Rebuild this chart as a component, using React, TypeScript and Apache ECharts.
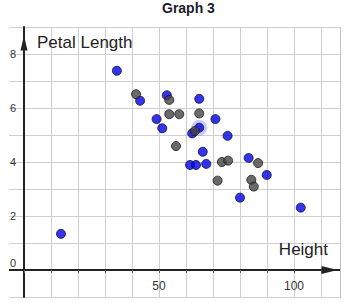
import { useEffect, useRef } from "react";
import * as echarts from "echarts";

const titleText = "Graph 3";
const xAxisName = "Height";
const yAxisName = "Petal Length";
const xLabelValues = [50, 100];
const yLabelValues = [0, 2, 4, 6, 8];

const bluePoints: [number, number][] = [
  [34.4, 7.38], [43.0, 6.27], [52.9, 6.47], [64.9, 6.34], [49.1, 5.59],
  [70.9, 5.59], [51.2, 5.25], [64.9, 5.27], [62.3, 5.06], [75.4, 4.97],
  [66.2, 4.38], [61.5, 3.89], [63.7, 3.89], [67.5, 3.93], [83.2, 4.15],
  [89.9, 3.52], [80.0, 2.68], [102.5, 2.31], [13.7, 1.34],
];

const grayPoints: [number, number][] = [
  [41.5, 6.51], [53.8, 6.30], [53.8, 5.77], [57.5, 5.77], [64.9, 5.80],
  [63.3, 5.15], [56.3, 4.59], [73.3, 4.00], [75.6, 4.05], [86.7, 3.96],
  [71.7, 3.31], [84.2, 3.34], [85.1, 3.09],
];

const selectedPoint: [number, number][] = [[64.9, 5.27]];

export default function App() {
  const ref = useRef<HTMLDivElement>(null);
  useEffect(() => {
    if (!ref.current) return;
    const chart = echarts.init(ref.current, null, { renderer: "svg" });
    const font = "'Liberation Sans', Arial, sans-serif";
    chart.setOption({
      animation: false,
      title: {
        text: titleText,
        left: 157,
        top: -4,
        textStyle: { fontFamily: font, fontSize: 14, fontWeight: "bold", color: "#1c1c2c" },
      },
      grid: { left: -3, right: 8, top: 27, bottom: 6, containLabel: false, outerBoundsMode: "none" },
      graphic: [
        { type: "rect", z: 50, shape: { x: 0, y: 20, width: 9, height: 283 }, style: { fill: "#fff" }, silent: true },
        { type: "rect", z: 50, shape: { x: 341, y: 20, width: 15, height: 283 }, style: { fill: "#fff" }, silent: true },
        { type: "line", z: 51, shape: { x1: 340.5, y1: 27, x2: 340.5, y2: 297 }, style: { stroke: "#c4c4c4", lineWidth: 1 }, silent: true },
      ],
      xAxis: {
        type: "value",
        min: -10,
        max: 120,
        interval: 10,
        offset: -27,
        name: xAxisName,
        nameLocation: "end",
        nameGap: -20,
        nameTextStyle: {
          fontFamily: font, fontSize: 17, color: "#222",
          align: "right", verticalAlign: "bottom", lineHeight: 20, padding: [0, 0, 11, 0],
        },
        axisLine: {
          show: true, onZero: false,
          lineStyle: { color: "#222", width: 2 },
          symbol: ["none", "triangle"], symbolSize: [8, 16], symbolOffset: [0, -18.5],
        },
        axisTick: { show: true, inside: false, length: 3, lineStyle: { color: "#666", width: 1 } },
        axisLabel: {
          margin: 10,
          fontFamily: font, fontSize: 12, color: "#333",
          formatter: (v: number) => (xLabelValues.includes(v) ? String(v) : ""),
        },
        splitLine: { show: true, lineStyle: { color: "#cfcfcf", width: 1 } },
      },
      yAxis: {
        type: "value",
        min: -1,
        max: 9,
        interval: 1,
        offset: -27,
        name: yAxisName,
        nameLocation: "end",
        nameGap: -15,
        nameTextStyle: {
          fontFamily: font, fontSize: 17, color: "#222",
          align: "left", verticalAlign: "middle", padding: [0, 0, 0, 13],
        },
        axisLine: {
          show: true, onZero: false,
          lineStyle: { color: "#222", width: 2 },
          symbol: ["none", "triangle"], symbolSize: [7, 15], symbolOffset: [0, -16],
        },
        axisTick: { show: false },
        axisLabel: {
          margin: 8,
          fontFamily: font, fontSize: 11, color: "#333",
          formatter: (v: number) => (v === 0 ? "{z|0}" : yLabelValues.includes(v) ? String(v) : ""),
          rich: { z: { fontFamily: font, fontSize: 11, color: "#333", padding: [0, 0, 14, 0] } },
        },
        splitLine: { show: true, lineStyle: { color: "#cfcfcf", width: 1 } },
      },
      series: [
        {
          type: "scatter",
          data: selectedPoint,
          symbolSize: 16,
          itemStyle: { color: "rgba(70,70,255,0.35)", borderWidth: 0 },
          z: 1,
          silent: true,
        },
        {
          type: "scatter",
          data: bluePoints,
          symbolSize: 9,
          itemStyle: { color: "#0000ee", borderColor: "#10102a", borderWidth: 1 },
          z: 2,
        },
        {
          type: "scatter",
          data: grayPoints,
          symbolSize: 9,
          itemStyle: { color: "#454545", borderColor: "#1a1a1a", borderWidth: 1 },
          z: 3,
        },
      ],
    });
    return () => chart.dispose();
  }, []);
  return (
    <div
      ref={ref}
      style={{ position: "absolute", left: 0, top: 0, width: 356, height: 303 }}
    />
  );
}
